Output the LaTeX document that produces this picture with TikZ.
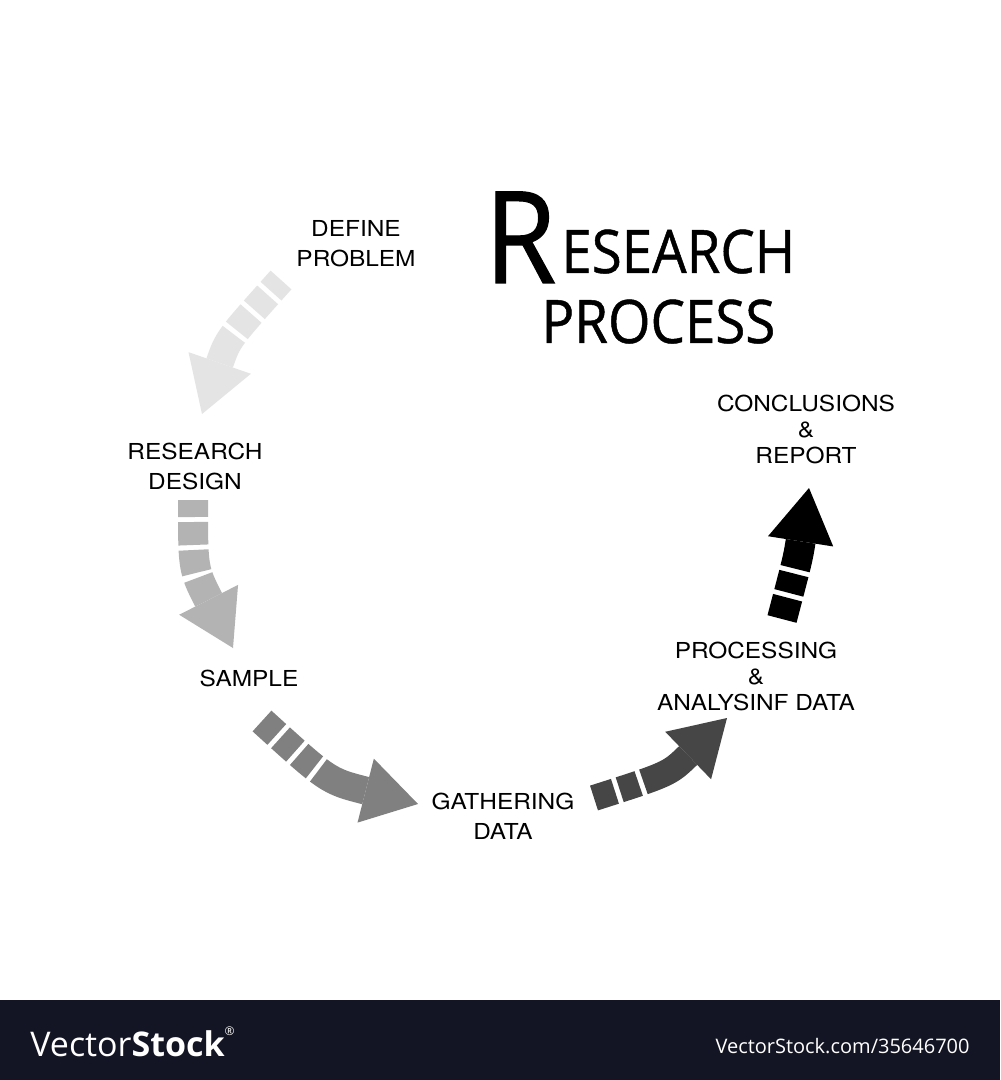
\documentclass[tikz,border=0pt]{standalone}
\usepackage{fontspec}
\setmainfont{Open Sans}
\newfontfamily\lblfont[FakeStretch=1.11]{TeX Gyre Heros}
\newfontfamily\ttlfont[FakeStretch=0.91,FakeBold=0.8]{Open Sans}
\usetikzlibrary{calc}
\definecolor{ca}{HTML}{E4E4E4}
\definecolor{cb}{HTML}{B3B3B3}
\definecolor{cc}{HTML}{808080}
\definecolor{cd}{HTML}{464646}
\definecolor{ce}{HTML}{000000}
\definecolor{footbg}{HTML}{131524}
\newcommand\sgarrow[6]{%
  \coordinate (#6-b) at ($(#6)!27pt!(#5)$);
  \coordinate (#6-l) at ($(#6-b)!16.5pt!90:(#6)$);
  \coordinate (#6-r) at ($(#6-b)!16.5pt!-90:(#6)$);
  \draw[#1, line width=#2, line cap=butt, dash pattern=#3] (#4) .. controls (#5) .. (#6-b);
  \fill[#1] (#6-l) -- (#6) -- (#6-r) -- cycle;
}
\begin{document}
\begin{tikzpicture}[x=0.5pt,y=-0.5pt,
  lbl/.style={font=\lblfont\fontsize{11}{15}\selectfont, align=center, inner sep=0pt},
  lblthree/.style={font=\lblfont\fontsize{11}{13}\selectfont, align=center, inner sep=0pt},
  ttl/.style={anchor=base west, inner sep=0pt}]
\fill[white] (0,0) rectangle (1000,1080);
\useasboundingbox (0,0) rectangle (1000,1080);

% title
\node[ttl, font=\ttlfont\fontsize{64}{64}\selectfont] (R) at (484,283) {R};
\node[ttl, font=\ttlfont\fontsize{30}{30}\selectfont] (esearch) at (561,273) {ESEARCH};
\node[ttl, font=\ttlfont\fontsize{30}{30}\selectfont] (process) at (541,343) {PROCESS};

% labels
\node[lbl] (define) at (356,244) {DEFINE\\PROBLEM};
\node[lbl] (design) at (195,466) {RESEARCH\\DESIGN};
\node[lbl] (sample) at (249,678) {SAMPLE};
\node[lbl] (gather) at (503,816) {GATHERING\\DATA};
\node[lblthree] (analyse) at (756,676) {PROCESSING\\\&\\ANALYSINF DATA};
\node[lblthree] (concl) at (806,429) {CONCLUSIONS\\\&\\REPORT};

% arrow coordinates
\coordinate (s1) at (281,280); \coordinate (c1) at (228,339); \coordinate (t1) at (202,414);
\coordinate (s2) at (193,500); \coordinate (c2) at (193,569); \coordinate (t2) at (233,648);
\coordinate (s3) at (262,721); \coordinate (c3) at (328,781); \coordinate (t3) at (418,804);
\coordinate (s4) at (594,798); \coordinate (c4) at (669,774); \coordinate (t4) at (727,718);
\coordinate (s5) at (782,619); \coordinate (c5) at (798,558); \coordinate (t5) at (809,488);

\sgarrow{ca}{14pt}{on 7.5pt off 2.5pt on 10pt off 2.5pt on 11pt off 2.5pt on 300pt off 1pt}{s1}{c1}{t1}
\sgarrow{cb}{15pt}{on 8.5pt off 2.5pt on 11.5pt off 2.5pt on 11.5pt off 2.5pt on 300pt off 1pt}{s2}{c2}{t2}
\sgarrow{cc}{14pt}{on 10pt off 2.5pt on 10pt off 2.5pt on 10pt off 2.5pt on 300pt off 1pt}{s3}{c3}{t3}
\sgarrow{cd}{13pt}{on 11pt off 2.5pt on 10pt off 2.5pt on 300pt off 1pt}{s4}{c4}{t4}
\sgarrow{ce}{15pt}{on 11pt off 2.5pt on 10pt off 2.5pt on 300pt off 1pt}{s5}{c5}{t5}

% footer
\fill[footbg] (0,1000) rectangle (1000,1080);
\node[anchor=base west, inner sep=0pt, text=white, font=\fontsize{17}{17}\selectfont] (logo) at (30,1056) {Vector\textbf{Stock}\raisebox{1.1ex}{\fontsize{6}{6}\selectfont ®}};
\node[anchor=base east, inner sep=0pt, text=white, font=\fontsize{10}{10}\selectfont] (url) at (970,1053) {VectorStock.com/35646700};
\end{tikzpicture}
\end{document}
